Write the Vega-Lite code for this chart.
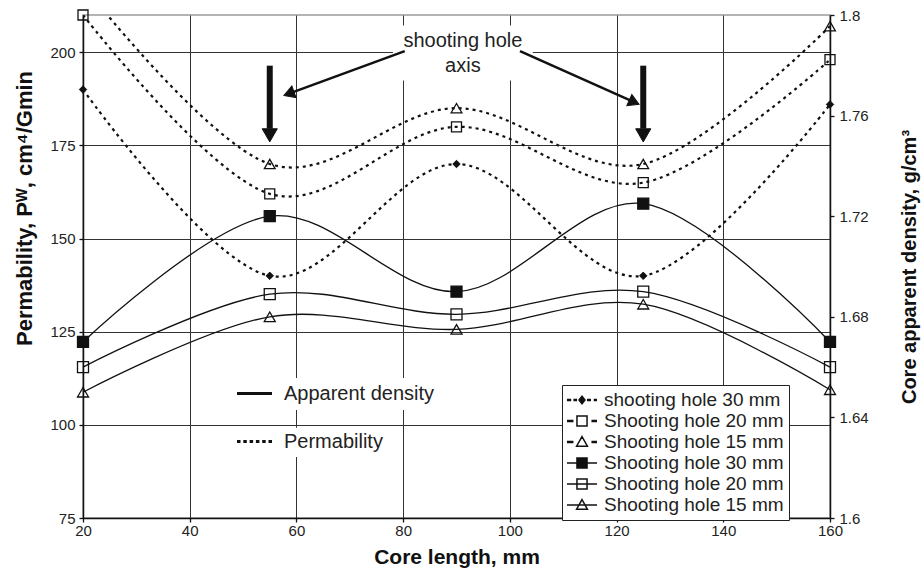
{
  "$schema": "https://vega.github.io/schema/vega-lite/v6.json",
  "width": 747,
  "height": 503,
  "autosize": {"type": "none"},
  "padding": {"left": 83, "top": 15, "right": 92, "bottom": 59},
  "background": "white",
  "datasets": {
    "curves": [
      {"length": 20, "series": "P30", "kind": "Permability", "value": 190},
      {"length": 55, "series": "P30", "kind": "Permability", "value": 140},
      {"length": 90, "series": "P30", "kind": "Permability", "value": 170},
      {"length": 125, "series": "P30", "kind": "Permability", "value": 140},
      {"length": 160, "series": "P30", "kind": "Permability", "value": 186},
      {"length": 20, "series": "P20", "kind": "Permability", "value": 210},
      {"length": 55, "series": "P20", "kind": "Permability", "value": 162},
      {"length": 90, "series": "P20", "kind": "Permability", "value": 180},
      {"length": 125, "series": "P20", "kind": "Permability", "value": 165},
      {"length": 160, "series": "P20", "kind": "Permability", "value": 198},
      {"length": 20, "series": "P15", "kind": "Permability", "value": 218},
      {"length": 55, "series": "P15", "kind": "Permability", "value": 170},
      {"length": 90, "series": "P15", "kind": "Permability", "value": 185},
      {"length": 125, "series": "P15", "kind": "Permability", "value": 170},
      {"length": 160, "series": "P15", "kind": "Permability", "value": 207},
      {"length": 20, "series": "D30", "kind": "Apparent density", "value": 1.670},
      {"length": 55, "series": "D30", "kind": "Apparent density", "value": 1.720},
      {"length": 90, "series": "D30", "kind": "Apparent density", "value": 1.690},
      {"length": 125, "series": "D30", "kind": "Apparent density", "value": 1.725},
      {"length": 160, "series": "D30", "kind": "Apparent density", "value": 1.670},
      {"length": 20, "series": "D20", "kind": "Apparent density", "value": 1.660},
      {"length": 55, "series": "D20", "kind": "Apparent density", "value": 1.689},
      {"length": 90, "series": "D20", "kind": "Apparent density", "value": 1.681},
      {"length": 125, "series": "D20", "kind": "Apparent density", "value": 1.690},
      {"length": 160, "series": "D20", "kind": "Apparent density", "value": 1.660},
      {"length": 20, "series": "D15", "kind": "Apparent density", "value": 1.650},
      {"length": 55, "series": "D15", "kind": "Apparent density", "value": 1.680},
      {"length": 90, "series": "D15", "kind": "Apparent density", "value": 1.675},
      {"length": 125, "series": "D15", "kind": "Apparent density", "value": 1.685},
      {"length": 160, "series": "D15", "kind": "Apparent density", "value": 1.651}
    ],
    "masks": [
      {"x": 78.1, "x2": 104.3, "y": 207.2, "y2": 192.4},
      {"x": 56.9, "x2": 86.3, "y": 112.6, "y2": 104.0},
      {"x": 56.9, "x2": 77.5, "y": 99.2, "y2": 91.4}
    ],
    "shafts": [
      {"x": 55, "y": 196.4, "y2": 179.5},
      {"x": 125, "y": 196.4, "y2": 179.5}
    ],
    "tips": [
      {"x": 55, "y": 177.7},
      {"x": 125, "y": 177.7}
    ],
    "pointers": [
      {"side": "left", "x": 80.3, "y": 200.3, "x2": 58.6, "y2": 188.9},
      {"side": "right", "x": 101.9, "y": 200.3, "x2": 123.3, "y2": 186.6}
    ],
    "notes": [
      {"x": 91.2, "y": 203.1, "text": "shooting hole\naxis"}
    ]
  },
  "layer": [
    {
      "layer": [
        {
          "data": {"name": "masks"},
          "mark": {"type": "rect", "fill": "white", "stroke": null},
          "encoding": {
            "x": {"field": "x", "type": "quantitative", "title": "Core length, mm", "scale": {"domain": [20, 160], "nice": false, "zero": false}},
            "x2": {"field": "x2"},
            "y": {"field": "y", "type": "quantitative", "title": "Permability, Pᵂ, cm⁴/Gmin", "scale": {"domain": [75, 210], "nice": false, "zero": false}},
            "y2": {"field": "y2"}
          }
        },
        {
          "data": {"name": "curves"},
          "transform": [{"filter": "datum.kind === 'Permability'"}],
          "mark": {"type": "line", "interpolate": "cardinal", "clip": true, "stroke": "#111", "strokeWidth": 2.2, "strokeDash": [3, 4]},
          "encoding": {
            "x": {
              "field": "length", "type": "quantitative", "title": "Core length, mm",
              "scale": {"domain": [20, 160], "nice": false, "zero": false},
              "axis": {"values": [20, 40, 60, 80, 100, 120, 140, 160], "grid": true, "labelPadding": 1, "titlePadding": 8, "labelFlush": false, "titleFontSize": 21}
            },
            "y": {
              "field": "value", "type": "quantitative", "title": "Permability, Pᵂ, cm⁴/Gmin",
              "scale": {"domain": [75, 210], "nice": false, "zero": false},
              "axis": {"orient": "left", "values": [75, 100, 125, 150, 175, 200], "grid": true, "labelPadding": 4, "titlePadding": 13, "labelFlush": false, "titleFontSize": 22, "titleY": 193}
            },
            "detail": {"field": "series", "type": "nominal"}
          }
        },
        {
          "data": {"name": "curves"},
          "transform": [{"filter": "false"}],
          "mark": {"type": "point", "filled": true, "strokeWidth": 1.5, "opacity": 1},
          "encoding": {
            "x": {"field": "length", "type": "quantitative", "title": "Core length, mm", "scale": {"domain": [20, 160], "nice": false, "zero": false}},
            "y": {"field": "value", "type": "quantitative", "title": "Permability, Pᵂ, cm⁴/Gmin", "scale": {"domain": [75, 210], "nice": false, "zero": false}},
            "shape": {
              "field": "series", "type": "nominal",
              "scale": {
                "domain": ["P30", "P20", "P15", "D30", "D20", "D15"],
                "range": [
                  "M-1.67,-0.06H-1.2M-1.67,0.06H-1.2M0.55,-0.06H1.0M0.55,0.06H1.0M1.3,-0.06H1.67M1.3,0.06H1.67M-0.95,-0.06H-0.55M-0.95,0.06H-0.55M0,-0.42L0.33,0L0,0.42L-0.33,0Z",
                  "M-1.67,-0.06H-0.95M-1.67,0.06H-0.95M1.05,-0.06H1.67M1.05,0.06H1.67M-0.56,-0.56H0.56V0.56H-0.56Z",
                  "M-1.67,-0.06H-0.95M-1.67,0.06H-0.95M1.05,-0.06H1.67M1.05,0.06H1.67M0,-0.6L0.6,0.46L-0.6,0.46Z",
                  "M-1.67,0H1.67M-0.56,-0.56H0.56V0.56H-0.56Z",
                  "M-1.67,0H1.67M-0.56,-0.56H0.56V0.56H-0.56Z",
                  "M-1.67,0H1.67M0,-0.6L0.6,0.46L-0.6,0.46Z"
                ]
              },
              "legend": {
                "orient": "none", "legendX": 479, "legendY": 370, "title": null,
                "fillColor": "white", "strokeColor": "#222", "padding": 5, "rowPadding": 1,
                "symbolSize": 324, "symbolStrokeWidth": 1.5,
                "labelFontSize": 19, "labelColor": "#222", "labelLimit": 400, "labelOffset": 12, "symbolOffset": 5,
                "labelExpr": "datum.value === 'P30' ? 'shooting hole 30 mm' : (datum.value === 'P20' || datum.value === 'D20') ? 'Shooting hole 20 mm' : datum.value === 'D30' ? 'Shooting hole 30 mm' : 'Shooting hole 15 mm'"
              }
            },
            "fill": {
              "field": "series", "type": "nominal",
              "scale": {"domain": ["P30", "P20", "P15", "D30", "D20", "D15"], "range": ["#111", "transparent", "transparent", "#111", "transparent", "transparent"]}
            },
            "stroke": {
              "field": "series", "type": "nominal",
              "scale": {"domain": ["P30", "P20", "P15", "D30", "D20", "D15"], "range": ["#111", "#111", "#111", "#111", "#111", "#111"]}
            }
          }
        },
        {
          "data": {"name": "curves"},
          "transform": [{"filter": "datum.series === 'P30'"}],
          "mark": {"type": "point", "shape": "diamond", "filled": true, "fill": "#111", "stroke": "#111", "strokeWidth": 1, "size": 55, "opacity": 1},
          "encoding": {
            "x": {"field": "length", "type": "quantitative", "title": "Core length, mm", "scale": {"domain": [20, 160], "nice": false, "zero": false}},
            "y": {"field": "value", "type": "quantitative", "title": "Permability, Pᵂ, cm⁴/Gmin", "scale": {"domain": [75, 210], "nice": false, "zero": false}}
          }
        },
        {
          "data": {"name": "curves"},
          "transform": [{"filter": "datum.series === 'P20' && datum.value <= 210"}],
          "mark": {"type": "point", "shape": "square", "filled": false, "stroke": "#111", "strokeWidth": 1.3, "size": 100, "opacity": 1},
          "encoding": {
            "x": {"field": "length", "type": "quantitative", "title": "Core length, mm", "scale": {"domain": [20, 160], "nice": false, "zero": false}},
            "y": {"field": "value", "type": "quantitative", "title": "Permability, Pᵂ, cm⁴/Gmin", "scale": {"domain": [75, 210], "nice": false, "zero": false}}
          }
        },
        {
          "data": {"name": "curves"},
          "transform": [{"filter": "datum.series === 'P15' && datum.value <= 210"}],
          "mark": {"type": "point", "shape": "triangle-up", "filled": false, "stroke": "#111", "strokeWidth": 1.3, "size": 115, "opacity": 1},
          "encoding": {
            "x": {"field": "length", "type": "quantitative", "title": "Core length, mm", "scale": {"domain": [20, 160], "nice": false, "zero": false}},
            "y": {"field": "value", "type": "quantitative", "title": "Permability, Pᵂ, cm⁴/Gmin", "scale": {"domain": [75, 210], "nice": false, "zero": false}}
          }
        },
        {
          "data": {"name": "shafts"},
          "mark": {"type": "rule", "stroke": "#111", "strokeWidth": 6},
          "encoding": {
            "x": {"field": "x", "type": "quantitative", "title": "Core length, mm", "scale": {"domain": [20, 160], "nice": false, "zero": false}},
            "y": {"field": "y", "type": "quantitative", "title": "Permability, Pᵂ, cm⁴/Gmin", "scale": {"domain": [75, 210], "nice": false, "zero": false}},
            "y2": {"field": "y2"}
          }
        },
        {
          "data": {"name": "tips"},
          "mark": {"type": "point", "shape": "triangle-down", "filled": true, "fill": "#111", "stroke": "#111", "strokeWidth": 1, "size": 230, "opacity": 1},
          "encoding": {
            "x": {"field": "x", "type": "quantitative", "title": "Core length, mm", "scale": {"domain": [20, 160], "nice": false, "zero": false}},
            "y": {"field": "y", "type": "quantitative", "title": "Permability, Pᵂ, cm⁴/Gmin", "scale": {"domain": [75, 210], "nice": false, "zero": false}}
          }
        },
        {
          "data": {"name": "pointers"},
          "mark": {"type": "rule", "stroke": "#111", "strokeWidth": 2.5},
          "encoding": {
            "x": {"field": "x", "type": "quantitative", "title": "Core length, mm", "scale": {"domain": [20, 160], "nice": false, "zero": false}},
            "x2": {"field": "x2"},
            "y": {"field": "y", "type": "quantitative", "title": "Permability, Pᵂ, cm⁴/Gmin", "scale": {"domain": [75, 210], "nice": false, "zero": false}},
            "y2": {"field": "y2"}
          }
        },
        {
          "data": {"name": "pointers"},
          "transform": [{"filter": "datum.side === 'left'"}],
          "mark": {"type": "point", "shape": "triangle-up", "angle": 250, "filled": true, "fill": "#111", "stroke": "#111", "strokeWidth": 1, "size": 150, "opacity": 1},
          "encoding": {
            "x": {"field": "x2", "type": "quantitative", "title": "Core length, mm", "scale": {"domain": [20, 160], "nice": false, "zero": false}},
            "y": {"field": "y2", "type": "quantitative", "title": "Permability, Pᵂ, cm⁴/Gmin", "scale": {"domain": [75, 210], "nice": false, "zero": false}}
          }
        },
        {
          "data": {"name": "pointers"},
          "transform": [{"filter": "datum.side === 'right'"}],
          "mark": {"type": "point", "shape": "triangle-up", "angle": 114, "filled": true, "fill": "#111", "stroke": "#111", "strokeWidth": 1, "size": 150, "opacity": 1},
          "encoding": {
            "x": {"field": "x2", "type": "quantitative", "title": "Core length, mm", "scale": {"domain": [20, 160], "nice": false, "zero": false}},
            "y": {"field": "y2", "type": "quantitative", "title": "Permability, Pᵂ, cm⁴/Gmin", "scale": {"domain": [75, 210], "nice": false, "zero": false}}
          }
        },
        {
          "data": {"name": "notes"},
          "mark": {"type": "text", "font": "Liberation Sans", "fontSize": 20, "fill": "#222", "align": "center", "baseline": "middle", "lineBreak": "\n", "lineHeight": 25},
          "encoding": {
            "x": {"field": "x", "type": "quantitative", "title": "Core length, mm", "scale": {"domain": [20, 160], "nice": false, "zero": false}},
            "y": {"field": "y", "type": "quantitative", "title": "Permability, Pᵂ, cm⁴/Gmin", "scale": {"domain": [75, 210], "nice": false, "zero": false}},
            "text": {"field": "text"}
          }
        }
      ]
    },
    {
      "layer": [
        {
          "data": {"name": "curves"},
          "transform": [{"filter": "datum.kind === 'Apparent density'"}],
          "mark": {"type": "line", "interpolate": "cardinal", "stroke": "#111", "strokeWidth": 1.3},
          "encoding": {
            "x": {"field": "length", "type": "quantitative", "title": "Core length, mm", "scale": {"domain": [20, 160], "nice": false, "zero": false}},
            "y": {
              "field": "value", "type": "quantitative", "title": "Core apparent density, g/cm³",
              "scale": {"domain": [1.6, 1.8], "nice": false, "zero": false},
              "axis": {"orient": "right", "values": [1.6, 1.64, 1.68, 1.72, 1.76, 1.8], "format": ".2~f", "grid": false, "labelPadding": 5, "titlePadding": 51, "titleAngle": 270, "labelFlush": false}
            },
            "detail": {"field": "series", "type": "nominal"}
          }
        },
        {
          "data": {"name": "curves"},
          "transform": [{"filter": "false"}],
          "mark": {"type": "point", "filled": false, "stroke": "#111", "strokeWidth": 3, "opacity": 1},
          "encoding": {
            "x": {"field": "length", "type": "quantitative", "title": "Core length, mm", "scale": {"domain": [20, 160], "nice": false, "zero": false}},
            "y": {"field": "value", "type": "quantitative", "title": "Core apparent density, g/cm³", "scale": {"domain": [1.6, 1.8], "nice": false, "zero": false}},
            "shape": {
              "field": "kind", "type": "nominal",
              "scale": {
                "domain": ["Apparent density", "Permability"],
                "range": [
                  "M-1.75,0H1.75",
                  "M-1.75,0H-1.4M-1.12,0H-0.77M-0.49,0H-0.14M0.14,0H0.49M0.77,0H1.12M1.4,0H1.75"
                ]
              },
              "legend": {
                "orient": "none", "legendX": 160, "legendY": 367, "title": null,
                "padding": 0, "rowPadding": 26, "symbolSize": 400, "symbolStrokeWidth": 3, "symbolStrokeColor": "#111", "symbolFillColor": "transparent",
                "labelFontSize": 20, "labelColor": "#222", "labelOffset": 18, "labelLimit": 400
              }
            }
          }
        },
        {
          "data": {"name": "curves"},
          "transform": [{"filter": "datum.series === 'D30'"}],
          "mark": {"type": "point", "shape": "square", "filled": true, "fill": "#111", "stroke": "#111", "strokeWidth": 1.3, "size": 121, "opacity": 1},
          "encoding": {
            "x": {"field": "length", "type": "quantitative", "title": "Core length, mm", "scale": {"domain": [20, 160], "nice": false, "zero": false}},
            "y": {"field": "value", "type": "quantitative", "title": "Core apparent density, g/cm³", "scale": {"domain": [1.6, 1.8], "nice": false, "zero": false}}
          }
        },
        {
          "data": {"name": "curves"},
          "transform": [{"filter": "datum.series === 'D20'"}],
          "mark": {"type": "point", "shape": "square", "filled": false, "stroke": "#111", "strokeWidth": 1.3, "size": 121, "opacity": 1},
          "encoding": {
            "x": {"field": "length", "type": "quantitative", "title": "Core length, mm", "scale": {"domain": [20, 160], "nice": false, "zero": false}},
            "y": {"field": "value", "type": "quantitative", "title": "Core apparent density, g/cm³", "scale": {"domain": [1.6, 1.8], "nice": false, "zero": false}}
          }
        },
        {
          "data": {"name": "curves"},
          "transform": [{"filter": "datum.series === 'D15'"}],
          "mark": {"type": "point", "shape": "triangle-up", "filled": false, "stroke": "#111", "strokeWidth": 1.3, "size": 121, "opacity": 1},
          "encoding": {
            "x": {"field": "length", "type": "quantitative", "title": "Core length, mm", "scale": {"domain": [20, 160], "nice": false, "zero": false}},
            "y": {"field": "value", "type": "quantitative", "title": "Core apparent density, g/cm³", "scale": {"domain": [1.6, 1.8], "nice": false, "zero": false}}
          }
        }
      ]
    }
  ],
  "resolve": {"scale": {"y": "independent", "shape": "independent", "fill": "independent", "stroke": "independent"}},
  "config": {
    "font": "Liberation Sans",
    "view": {"stroke": "#9a9a9a", "strokeWidth": 1.5},
    "axis": {
      "domainColor": "#111", "domainWidth": 1.5,
      "tickColor": "#111", "tickWidth": 1.3, "tickSize": 4,
      "labelFont": "Liberation Sans", "labelFontSize": 15, "labelColor": "#222",
      "titleFont": "Liberation Sans", "titleFontSize": 20, "titleFontWeight": "bold", "titleColor": "#111",
      "gridColor": "#333", "gridWidth": 1, "gridOpacity": 1
    },
    "legend": {"labelFont": "Liberation Sans"}
  }
}
